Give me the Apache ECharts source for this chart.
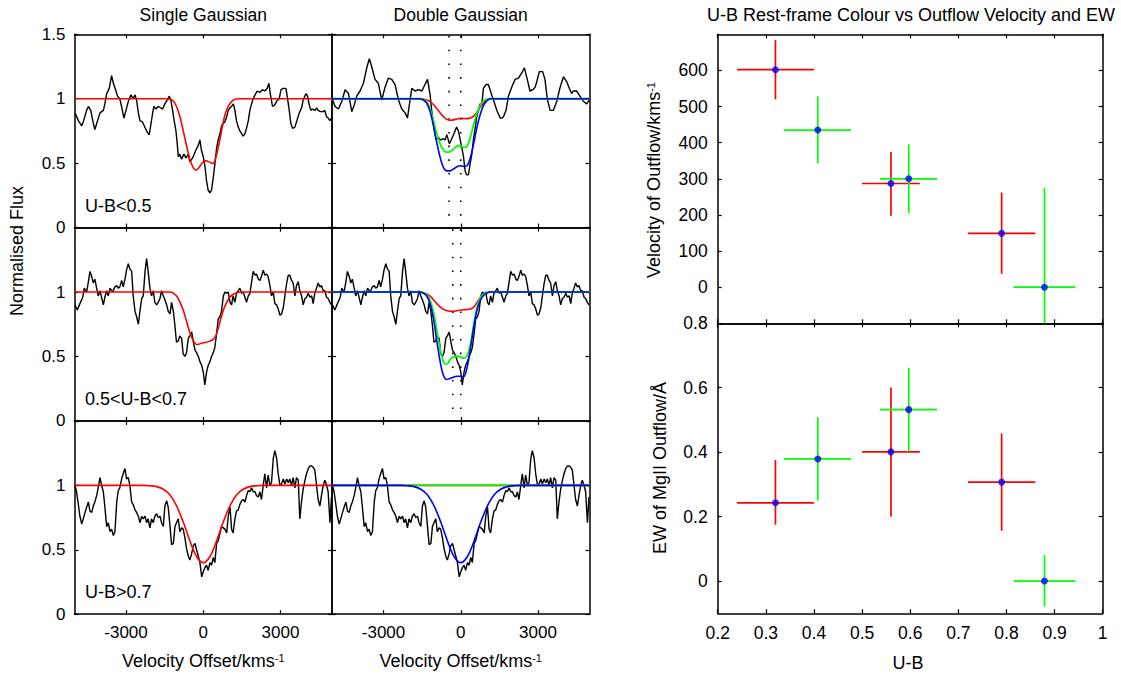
<!DOCTYPE html>
<html>
<head>
<meta charset="utf-8">
<script src="https://cdn.jsdelivr.net/npm/echarts@6/dist/echarts.min.js"></script>
<style>
  html, body { margin: 0; padding: 0; background: #fff; }
  #chart { width: 1121px; height: 675px; }
</style>
</head>
<body>
<div id="chart"></div>
<script>
// ---------- MgII stacked spectra: [velocity (km/s), normalised flux] ----------
// U-B < 0.5, continuum as used for the single-Gaussian fit
const specBlueSingle = [[-4980,0.89],[-4850,0.83],[-4720,0.79],[-4660,0.82],[-4530,0.91],[-4460,0.94],[-4370,0.91],[-4270,0.81],[-4210,0.76],[-4120,0.82],[-4010,0.89],[-3880,0.91],[-3820,0.96],[-3750,1.04],[-3650,1.08],[-3560,1.18],[-3490,1.12],[-3390,1.06],[-3330,1.02],[-3240,1.00],[-3140,0.91],[-3080,0.85],[-3000,0.91],[-2910,0.98],[-2810,1.03],[-2720,1.00],[-2650,1.03],[-2590,0.99],[-2520,0.89],[-2460,0.83],[-2360,0.82],[-2270,0.78],[-2170,0.74],[-2100,0.72],[-2050,0.78],[-1980,0.87],[-1920,0.94],[-1840,0.92],[-1750,0.94],[-1660,0.93],[-1580,0.92],[-1490,0.96],[-1400,0.99],[-1320,1.02],[-1260,0.99],[-1190,0.91],[-1130,0.83],[-1060,0.75],[-1010,0.65],[-970,0.55],[-910,0.57],[-840,0.53],[-750,0.57],[-670,0.54],[-580,0.57],[-520,0.51],[-450,0.53],[-390,0.55],[-290,0.60],[-190,0.64],[-130,0.68],[-70,0.60],[0,0.55],[70,0.47],[130,0.36],[190,0.29],[260,0.27],[320,0.29],[390,0.39],[450,0.49],[520,0.62],[580,0.68],[650,0.73],[710,0.79],[780,0.81],[840,0.82],[910,0.86],[970,0.91],[1040,0.93],[1100,0.94],[1170,0.96],[1230,0.91],[1290,0.83],[1360,0.78],[1420,0.75],[1490,0.73],[1550,0.71],[1620,0.73],[1680,0.77],[1750,0.83],[1810,0.91],[1920,0.99],[2010,1.03],[2100,1.06],[2200,1.05],[2300,1.07],[2390,1.06],[2480,1.08],[2550,1.12],[2610,1.03],[2690,0.94],[2770,0.95],[2850,0.98],[2950,1.00],[3020,1.07],[3110,1.08],[3210,1.08],[3260,1.02],[3340,0.91],[3400,0.81],[3470,0.77],[3560,0.78],[3620,0.82],[3730,0.89],[3820,0.93],[3880,0.99],[3990,1.04],[4050,1.02],[4120,0.95],[4180,0.91],[4240,0.92],[4340,0.91],[4400,0.93],[4460,0.91],[4560,0.90],[4660,0.90],[4720,0.91],[4790,0.86],[4850,0.85],[4920,0.83],[4980,0.85]];

// U-B < 0.5, continuum as used for the double-Gaussian fit
const specBlueDouble = [[-4990,1.00],[-4880,0.94],[-4750,0.92],[-4620,0.98],[-4490,1.07],[-4360,1.04],[-4230,0.90],[-4140,0.95],[-4040,1.02],[-3910,1.06],[-3780,1.12],[-3650,1.24],[-3550,1.31],[-3460,1.25],[-3330,1.15],[-3200,1.12],[-3070,0.99],[-2940,1.09],[-2810,1.16],[-2680,1.15],[-2550,1.11],[-2420,0.99],[-2290,0.92],[-2160,0.89],[-2070,0.85],[-1970,0.99],[-1900,1.08],[-1770,1.06],[-1640,1.07],[-1510,1.06],[-1390,1.11],[-1290,1.15],[-1190,1.03],[-1130,0.91],[-1040,0.77],[-960,0.68],[-870,0.70],[-780,0.68],[-670,0.69],[-610,0.68],[-540,0.72],[-440,0.65],[-350,0.69],[-260,0.73],[-160,0.78],[-90,0.75],[-30,0.69],[40,0.62],[100,0.56],[170,0.44],[230,0.41],[300,0.41],[360,0.49],[430,0.57],[490,0.68],[560,0.77],[620,0.86],[690,0.91],[750,0.96],[820,0.96],[880,1.08],[980,1.11],[1070,1.11],[1140,1.07],[1200,1.03],[1270,0.99],[1400,0.91],[1530,0.85],[1590,0.85],[1660,0.86],[1760,0.91],[1850,1.02],[1980,1.09],[2110,1.15],[2240,1.16],[2370,1.20],[2470,1.24],[2560,1.17],[2690,1.06],[2800,1.07],[2890,1.09],[2950,1.13],[3050,1.21],[3180,1.21],[3270,1.15],[3360,1.00],[3470,0.91],[3600,0.91],[3730,0.98],[3860,1.09],[3990,1.17],[4120,1.13],[4220,1.08],[4310,1.04],[4370,1.06],[4500,1.06],[4630,1.02],[4760,0.98],[4890,0.96],[4990,0.99]];

// 0.5 < U-B < 0.7
const specMid = [[-4980,0.90],[-4890,0.86],[-4790,0.91],[-4680,0.96],[-4620,1.03],[-4530,1.00],[-4460,1.08],[-4400,1.16],[-4330,1.12],[-4270,1.07],[-4210,1.10],[-4140,1.03],[-4080,0.97],[-4010,1.01],[-3950,0.96],[-3880,0.90],[-3820,0.96],[-3750,1.01],[-3690,0.97],[-3620,1.03],[-3520,1.00],[-3430,1.04],[-3360,1.05],[-3300,1.03],[-3240,1.04],[-3170,1.09],[-3110,1.04],[-3040,1.10],[-2980,1.17],[-2910,1.22],[-2850,1.18],[-2780,1.16],[-2720,0.97],[-2650,0.85],[-2590,0.81],[-2520,0.75],[-2460,0.85],[-2390,0.95],[-2330,0.97],[-2260,1.16],[-2200,1.26],[-2140,1.16],[-2070,1.03],[-2010,0.97],[-1940,1.01],[-1880,0.92],[-1810,0.90],[-1750,0.92],[-1680,0.95],[-1620,1.01],[-1550,0.97],[-1490,0.94],[-1420,0.90],[-1360,0.85],[-1290,0.83],[-1230,0.92],[-1160,0.85],[-1100,0.74],[-1040,0.61],[-970,0.62],[-910,0.66],[-840,0.64],[-780,0.52],[-710,0.50],[-650,0.53],[-580,0.64],[-520,0.66],[-450,0.69],[-390,0.62],[-320,0.55],[-260,0.53],[-190,0.50],[-130,0.46],[-60,0.43],[0,0.38],[60,0.28],[130,0.38],[190,0.43],[260,0.46],[320,0.50],[390,0.53],[450,0.57],[520,0.68],[580,0.79],[650,0.81],[710,0.85],[780,0.97],[840,1.00],[910,0.99],[970,1.00],[1040,0.92],[1100,0.90],[1160,0.97],[1230,0.92],[1290,0.99],[1360,1.01],[1420,1.03],[1490,0.99],[1550,1.00],[1620,0.96],[1680,0.92],[1750,0.97],[1810,0.99],[1880,1.08],[1940,1.16],[2010,1.13],[2070,1.14],[2140,1.10],[2200,1.09],[2260,1.12],[2330,1.17],[2390,1.13],[2460,1.14],[2520,1.12],[2590,1.05],[2650,0.97],[2720,1.00],[2780,0.91],[2850,0.90],[2910,0.87],[2980,0.82],[3040,0.83],[3110,0.88],[3170,0.97],[3240,1.07],[3300,1.13],[3360,1.13],[3430,1.09],[3490,1.07],[3560,0.97],[3620,1.05],[3690,1.08],[3750,1.01],[3820,0.97],[3880,0.90],[3950,0.95],[4010,0.96],[4080,0.99],[4140,0.96],[4210,0.97],[4270,0.91],[4330,0.99],[4400,1.03],[4460,1.07],[4530,1.04],[4590,1.05],[4660,1.01],[4720,1.01],[4790,0.96],[4850,0.95],[4920,0.92],[4980,0.90]];

// U-B > 0.7
const specRed = [[-4980,1.00],[-4920,0.95],[-4850,0.85],[-4790,0.76],[-4720,0.70],[-4660,0.74],[-4590,0.79],[-4530,0.83],[-4460,0.87],[-4400,0.80],[-4330,0.79],[-4270,0.84],[-4210,0.87],[-4140,0.92],[-4080,0.98],[-4010,1.06],[-3950,1.00],[-3880,0.95],[-3820,0.83],[-3750,0.68],[-3690,0.71],[-3620,0.64],[-3560,0.66],[-3490,0.61],[-3430,0.64],[-3360,0.87],[-3300,0.96],[-3240,0.98],[-3170,1.05],[-3110,1.09],[-3040,1.13],[-2980,1.05],[-2910,1.06],[-2850,1.00],[-2780,0.87],[-2720,0.85],[-2650,0.81],[-2590,0.79],[-2520,0.76],[-2460,0.71],[-2390,0.76],[-2330,0.74],[-2260,0.76],[-2200,0.71],[-2140,0.74],[-2070,0.67],[-2010,0.74],[-1940,0.71],[-1880,0.76],[-1810,0.78],[-1750,0.75],[-1680,0.76],[-1620,0.71],[-1550,0.68],[-1490,0.84],[-1420,0.88],[-1360,0.83],[-1290,0.68],[-1230,0.54],[-1160,0.55],[-1100,0.68],[-1040,0.71],[-970,0.74],[-910,0.64],[-840,0.67],[-780,0.66],[-710,0.59],[-650,0.51],[-580,0.45],[-520,0.42],[-450,0.47],[-390,0.53],[-320,0.55],[-260,0.50],[-190,0.45],[-130,0.40],[-60,0.29],[0,0.33],[60,0.36],[130,0.38],[190,0.34],[260,0.40],[320,0.38],[390,0.44],[450,0.40],[520,0.55],[580,0.57],[650,0.63],[710,0.68],[780,0.67],[840,0.66],[910,0.63],[970,0.76],[1040,0.83],[1100,0.66],[1160,0.63],[1230,0.74],[1290,0.80],[1360,0.81],[1420,0.85],[1490,0.88],[1550,0.89],[1620,0.87],[1680,0.92],[1750,0.96],[1810,0.95],[1880,0.98],[1940,0.95],[2010,0.95],[2070,0.92],[2140,0.91],[2200,0.95],[2260,0.89],[2330,1.00],[2390,1.09],[2460,0.98],[2520,1.08],[2590,1.00],[2650,1.02],[2720,1.21],[2780,1.27],[2850,1.21],[2910,1.09],[2980,1.00],[3040,1.01],[3110,1.05],[3170,1.01],[3240,1.05],[3300,1.02],[3360,1.05],[3430,1.00],[3490,1.06],[3560,0.98],[3620,1.06],[3690,1.04],[3750,0.74],[3820,0.88],[3880,0.97],[3950,1.04],[4010,1.09],[4080,1.13],[4140,1.15],[4210,1.15],[4270,1.14],[4330,1.12],[4400,1.00],[4460,0.89],[4530,0.84],[4590,0.92],[4660,1.00],[4720,1.04],[4790,1.00],[4850,0.95],[4920,0.71],[4980,0.91]];

// ---------- fitted profiles ----------
const fitBlueSingle = [[-5000,1],[-1500,1],[-1360,0.998],[-1170,0.984],[-1040,0.94],[-910,0.864],[-780,0.754],[-650,0.636],[-520,0.531],[-390,0.466],[-290,0.445],[-160,0.466],[-30,0.505],[100,0.518],[230,0.51],[360,0.497],[450,0.518],[540,0.584],[650,0.688],[750,0.793],[840,0.872],[930,0.924],[1040,0.963],[1170,0.99],[1360,1],[5000,1]];
const fitMidSingle = [[-5000,1],[-1420,1],[-1290,1],[-1165,0.992],[-1035,0.969],[-906,0.922],[-776,0.858],[-647,0.772],[-518,0.684],[-388,0.624],[-259,0.593],[-129,0.598],[0,0.606],[129,0.611],[259,0.619],[388,0.632],[492,0.663],[595,0.728],[699,0.806],[802,0.87],[906,0.917],[1009,0.953],[1139,0.979],[1294,0.995],[1449,1],[5000,1]];
const fitRedSingle = [[-5000,1],[-2330,1],[-2070,0.997],[-1810,0.99],[-1550,0.97],[-1290,0.925],[-1040,0.842],[-780,0.717],[-520,0.57],[-260,0.448],[0,0.40],[260,0.448],[520,0.57],[780,0.717],[1040,0.842],[1290,0.925],[1550,0.97],[1810,0.99],[2070,0.997],[2330,1],[5000,1]];

// double-Gaussian components (red, green) and their sum (blue)
const fitBlueCompA = [[-5000,1],[-1600,1],[-1450,0.997],[-1320,0.99],[-1190,0.978],[-1060,0.955],[-930,0.925],[-800,0.89],[-670,0.86],[-540,0.84],[-410,0.833],[-280,0.836],[-150,0.843],[-20,0.848],[110,0.847],[240,0.846],[370,0.85],[500,0.865],[630,0.895],[760,0.935],[890,0.968],[1020,0.99],[1150,1],[5000,1]];
const fitBlueCompB = [[-5000,1],[-1600,1],[-1450,0.995],[-1320,0.975],[-1190,0.92],[-1060,0.83],[-930,0.73],[-800,0.65],[-670,0.60],[-540,0.585],[-410,0.59],[-280,0.61],[-150,0.632],[-20,0.637],[110,0.622],[240,0.63],[370,0.70],[500,0.80],[630,0.89],[760,0.95],[890,0.985],[1020,0.997],[1150,1],[5000,1]];
const fitBlueTotal = [[-5000,1],[-1600,1],[-1450,0.99],[-1320,0.965],[-1190,0.90],[-1060,0.79],[-930,0.66],[-800,0.545],[-670,0.465],[-540,0.44],[-410,0.44],[-280,0.455],[-150,0.472],[-20,0.48],[110,0.475],[240,0.48],[370,0.54],[500,0.65],[630,0.78],[760,0.88],[890,0.95],[1020,0.985],[1150,1],[5000,1]];

const fitMidCompA = [[-5000,1],[-1600,1],[-1450,0.995],[-1320,0.985],[-1190,0.969],[-1060,0.94],[-930,0.91],[-800,0.885],[-670,0.865],[-540,0.855],[-410,0.851],[-280,0.85],[-150,0.855],[-20,0.86],[110,0.863],[240,0.864],[370,0.868],[500,0.883],[630,0.918],[760,0.957],[890,0.982],[1020,0.995],[1150,1],[5000,1]];
const fitMidCompB = [[-5000,1],[-1600,1],[-1450,0.995],[-1320,0.979],[-1190,0.935],[-1060,0.845],[-930,0.70],[-800,0.56],[-670,0.456],[-540,0.44],[-410,0.478],[-280,0.495],[-150,0.503],[-20,0.495],[110,0.487],[240,0.505],[370,0.59],[500,0.745],[630,0.88],[760,0.955],[890,0.985],[1020,0.997],[1150,1],[5000,1]];
const fitMidTotal = [[-5000,1],[-1600,1],[-1450,0.99],[-1320,0.969],[-1190,0.909],[-1060,0.793],[-930,0.62],[-800,0.46],[-670,0.352],[-540,0.321],[-410,0.33],[-280,0.339],[-150,0.347],[-20,0.347],[110,0.342],[240,0.41],[370,0.555],[500,0.72],[630,0.86],[760,0.935],[890,0.975],[1020,0.993],[1150,1],[5000,1]];

const fitRedCompA = [[-5000,1],[5000,1]];
const fitRedCompB = [[-5000,1],[5000,1]];
const fitRedTotal = [[-5000,1],[-2330,1],[-2070,0.997],[-1810,0.99],[-1550,0.97],[-1290,0.925],[-1040,0.842],[-780,0.717],[-520,0.57],[-260,0.448],[0,0.40],[260,0.448],[520,0.57],[780,0.717],[1040,0.842],[1290,0.925],[1550,0.97],[1810,0.99],[2070,0.997],[2330,1],[5000,1]];

// component centres marked in the double-Gaussian panels (km/s)
const componentVelBlue = [-454, 0];
const componentVelMid = [-310, 0];

// ---------- outflow properties vs U-B ----------
const ubRed = [0.32, 0.56, 0.79];
const ubRedLow = [0.24, 0.50, 0.72];
const ubRedHigh = [0.40, 0.62, 0.86];
const ubGreen = [0.408, 0.597, 0.879];
const ubGreenLow = [0.337, 0.537, 0.815];
const ubGreenHigh = [0.477, 0.656, 0.943];

const vOutRed = [602, 287, 149];
const vOutRedLow = [520, 198, 37];
const vOutRedHigh = [684, 374, 262];
const vOutGreen = [435, 300, 0];
const vOutGreenLow = [343, 205, -275];
const vOutGreenHigh = [528, 395, 274];

const ewRed = [0.243, 0.401, 0.307];
const ewRedLow = [0.175, 0.200, 0.156];
const ewRedHigh = [0.376, 0.601, 0.458];
const ewGreen = [0.379, 0.532, 0.0];
const ewGreenLow = [0.250, 0.402, -0.079];
const ewGreenHigh = [0.509, 0.662, 0.081];

// tick values
const velTicks = [-3000, 0, 3000];
const fluxTicks = [0, 0.5, 1, 1.5];
const ubTicks = [0.2, 0.3, 0.4, 0.5, 0.6, 0.7, 0.8, 0.9, 1];
const vOutTicks = [0, 100, 200, 300, 400, 500, 600];
const ewTicks = [0, 0.2, 0.4, 0.6, 0.8];

// ---------- layout ----------
const FONT = "'Liberation Sans', Arial, Helvetica, sans-serif";
const RED = '#ff0000', GREEN = '#00ff00', BLUE = '#0000ff';
const colLeft = [74.5, 332];
const colWidth = 257.5;
const rowTop = [34.3, 227.6, 420.9];
const rowHeight = 193.3;
const rLeft = 717.7, rWidth = 385;

const grids = [];
const xAxes = [];
const yAxes = [];
const series = [];

function axisBase(gridIndex, position, min, max, tickVals, labelVals, labelMargin, labelSize) {
  return {
    type: 'value', gridIndex, position, min, max,
    axisLine: { show: true, onZero: false, lineStyle: { color: '#000', width: 1.5 } },
    splitLine: { show: false },
    axisTick: { show: true, inside: true, length: 4, customValues: tickVals,
                lineStyle: { color: '#000', width: 1.2 } },
    axisLabel: labelVals
      ? { show: true, customValues: labelVals, margin: labelMargin, fontSize: labelSize || 17,
          color: '#000', fontFamily: FONT, formatter: v => String(v) }
      : { show: false },
    silent: true
  };
}

function addGrid(left, top, width, height) {
  grids.push({ left, top, width, height, containLabel: false, show: false });
  return grids.length - 1;
}

function lineSeries(g, data, color, width, smooth, z) {
  series.push({
    type: 'line', xAxisIndex: 2 * g, yAxisIndex: 2 * g, data,
    showSymbol: false, symbol: 'none', smooth: smooth || false,
    lineStyle: { color, width }, z: z || 2, silent: true, clip: true
  });
}

// spectral panels: rows = colour bins, columns = single / double fit
const rows = [
  { single: specBlueSingle, double: specBlueDouble, fit: fitBlueSingle,
    comps: [fitBlueCompA, fitBlueCompB, fitBlueTotal], marks: componentVelBlue, label: 'U-B<0.5' },
  { single: specMid, double: specMid, fit: fitMidSingle,
    comps: [fitMidCompA, fitMidCompB, fitMidTotal], marks: componentVelMid, label: '0.5<U-B<0.7' },
  { single: specRed, double: specRed, fit: fitRedSingle,
    comps: [fitRedCompA, fitRedCompB, fitRedTotal], marks: null, label: 'U-B>0.7' }
];

rows.forEach((row, r) => {
  const isBottom = r === 2;
  for (let c = 0; c < 2; c++) {
    const g = addGrid(colLeft[c], rowTop[r], colWidth, rowHeight);
    xAxes.push(axisBase(g, 'bottom', -5000, 5000, velTicks, isBottom ? velTicks : null, 10));
    xAxes.push(axisBase(g, 'top', -5000, 5000, velTicks, null, 0));
    const yLabels = c === 0 ? (r === 0 ? fluxTicks : [0, 0.5, 1]) : null;
    yAxes.push(axisBase(g, 'left', 0, 1.5, fluxTicks, yLabels, 9));
    yAxes.push(axisBase(g, 'right', 0, 1.5, fluxTicks, null, 0));

    if (c === 0) {
      lineSeries(g, row.single, '#000', 1.4, false, 2);
      lineSeries(g, row.fit, RED, 1.6, 0.35, 3);
    } else {
      lineSeries(g, row.double, '#000', 1.4, false, 2);
      if (row.marks) {
        row.marks.forEach(v => {
          series.push({
            type: 'line', xAxisIndex: 2 * g, yAxisIndex: 2 * g,
            data: [[v, 1.5], [v, 0]], showSymbol: false, symbol: 'none',
            lineStyle: { color: '#000', width: 1.6, type: [1.6, 12.1], dashOffset: 12 },
            z: 2, silent: true
          });
        });
      }
      lineSeries(g, row.comps[0], RED, 1.6, 0.35, 3);
      lineSeries(g, row.comps[1], GREEN, 1.8, 0.35, 4);
      lineSeries(g, row.comps[2], BLUE, 1.6, 0.35, 5);
    }
  }
});

// error-bar crosses drawn through the axes' own coordinate mapping
function errorCross(params, api) {
  const x = api.value(0), y = api.value(1);
  const a = api.coord([api.value(2), y]);
  const b = api.coord([api.value(3), y]);
  const c = api.coord([x, api.value(4)]);
  const d = api.coord([x, api.value(5)]);
  const cs = params.coordSys;
  const clampY = v => Math.max(cs.y, Math.min(cs.y + cs.height, v));
  const style = { stroke: api.visual('color'), lineWidth: 1.7 };
  return {
    type: 'group',
    children: [
      { type: 'line', shape: { x1: a[0], y1: a[1], x2: b[0], y2: b[1] }, style },
      { type: 'line', shape: { x1: c[0], y1: clampY(c[1]), x2: d[0], y2: clampY(d[1]) }, style }
    ]
  };
}

function crossData(xs, xlo, xhi, ys, ylo, yhi) {
  return xs.map((x, i) => [x, ys[i], xlo[i], xhi[i], ylo[i], yhi[i]]);
}

const rightPanels = [
  { top: 34.3, height: 289, min: -100, max: 700, ticks: vOutTicks, showX: false,
    red: crossData(ubRed, ubRedLow, ubRedHigh, vOutRed, vOutRedLow, vOutRedHigh),
    green: crossData(ubGreen, ubGreenLow, ubGreenHigh, vOutGreen, vOutGreenLow, vOutGreenHigh) },
  { top: 323.3, height: 290, min: -0.1, max: 0.8, ticks: ewTicks, showX: true,
    red: crossData(ubRed, ubRedLow, ubRedHigh, ewRed, ewRedLow, ewRedHigh),
    green: crossData(ubGreen, ubGreenLow, ubGreenHigh, ewGreen, ewGreenLow, ewGreenHigh) }
];

rightPanels.forEach(p => {
  const g = addGrid(rLeft, p.top, rWidth, p.height);
  xAxes.push(axisBase(g, 'bottom', 0.2, 1, ubTicks, p.showX ? ubTicks : null, 11, 17.5));
  xAxes.push(axisBase(g, 'top', 0.2, 1, ubTicks, null, 0));
  yAxes.push(axisBase(g, 'left', p.min, p.max, p.ticks, p.ticks, 10, 17.5));
  yAxes.push(axisBase(g, 'right', p.min, p.max, p.ticks, null, 0));
  [[p.red, RED], [p.green, GREEN]].forEach(([data, color]) => {
    series.push({
      type: 'custom', xAxisIndex: 2 * g, yAxisIndex: 2 * g, data,
      encode: { x: 0, y: 1 }, renderItem: errorCross,
      itemStyle: { color }, z: 3, silent: true
    });
  });
  series.push({
    type: 'scatter', xAxisIndex: 2 * g, yAxisIndex: 2 * g,
    data: p.red.concat(p.green).map(d => [d[0], d[1]]),
    symbol: 'circle', symbolSize: 7, itemStyle: { color: BLUE }, z: 6, silent: true
  });
});

// ---------- text ----------
function text(x, y, str, size, opts) {
  return Object.assign({
    type: 'text', x, y, silent: true,
    style: { text: str, fontSize: size, fontFamily: FONT, fill: '#000',
             align: 'center', verticalAlign: 'middle' }
  }, opts || {});
}
function supText(x, y, main, sup, rotation) {
  return {
    type: 'text', x, y, rotation: rotation || 0, silent: true,
    style: {
      text: '{m|' + main + '}{s|' + sup + '}',
      align: 'center', verticalAlign: 'middle', fill: '#000',
      rich: {
        m: { fontSize: 18, fontFamily: FONT, fill: '#000', verticalAlign: 'top', lineHeight: 20 },
        s: { fontSize: 11, fontFamily: FONT, fill: '#000', verticalAlign: 'top', lineHeight: 20 }
      }
    }
  };
}

const graphics = [
  text(203.3, 15, 'Single Gaussian', 17.5),
  text(460.7, 15, 'Double Gaussian', 17.5),
  text(911, 15, 'U-B Rest-frame Colour vs Outflow Velocity and EW', 18),
  text(17, 251, 'Normalised Flux', 18, { rotation: Math.PI / 2 }),
  supText(203.3, 662, 'Velocity Offset/kms', '-1'),
  supText(460.7, 662, 'Velocity Offset/kms', '-1'),
  text(908, 663, 'U-B', 18),
  supText(655, 180, 'Velocity of Outflow/kms', '-1', Math.PI / 2),
  text(660, 468, 'EW of MgII Outflow/Å', 18, { rotation: Math.PI / 2 })
];
rows.forEach((row, r) => {
  const ys = [206, 399, 592];
  graphics.push({
    type: 'text', x: 85, y: ys[r], silent: true,
    style: { text: row.label, fontSize: 18, fontFamily: FONT, fill: '#000',
             align: 'left', verticalAlign: 'middle' }
  });
});

const chart = echarts.init(document.getElementById('chart'), null, { renderer: 'svg' });
chart.setOption({
  animation: false,
  backgroundColor: '#fff',
  textStyle: { fontFamily: FONT },
  grid: grids,
  xAxis: xAxes,
  yAxis: yAxes,
  series,
  graphic: graphics
});
</script>
</body>
</html>
